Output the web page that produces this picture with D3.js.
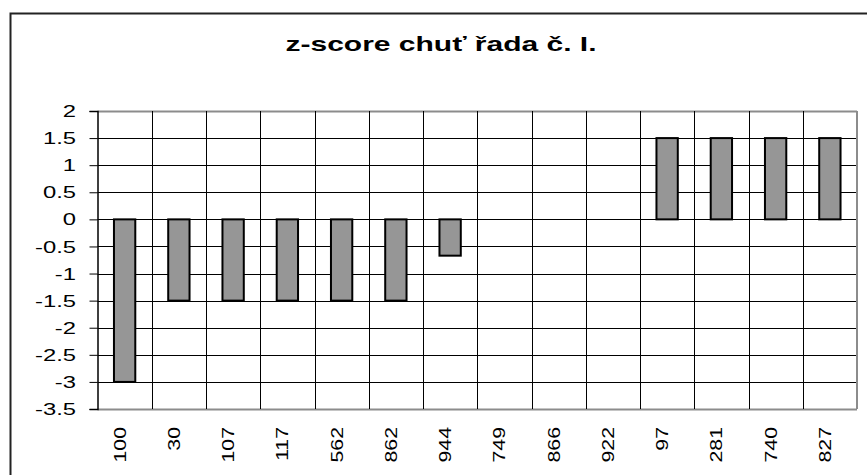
<!DOCTYPE html>
<html>
<head>
<meta charset="utf-8">
<script src="https://cdn.jsdelivr.net/npm/d3@7"></script>
<style>
  html, body { margin: 0; padding: 0; background: #fff; overflow: hidden; }
  svg { display: block; font-family: Arial, "Liberation Sans", sans-serif; }
</style>
</head>
<body>
<div id="chart"></div>
<script>
// Данные
const categories = ['100', '30', '107', '117', '562', '862', '944', '749', '866', '922', '97', '281', '740', '827']
const values = [-3, -1.5, -1.5, -1.5, -1.5, -1.5, -0.67, 0, 0, 0, 1.5, 1.5, 1.5, 1.5]
const yTicks = [2, 1.5, 1, 0.5, 0, -0.5, -1, -1.5, -2, -2.5, -3, -3.5]
const title = 'z-score chuť řada č. I.'

const config = {
  width: 867,
  height: 475,
  plotLeft: 97.5,
  plotRight: 857,
  plotTop: 111,
  plotBottom: 409,
  colors: {
    bar: '#969696',
    grid: '#000',
    frame: '#8c8c8c',
    text: '#000'
  }
}

const { width, height, plotLeft, plotRight, plotTop, plotBottom, colors } = config

const svg = d3.select('#chart')
  .append('svg')
  .attr('width', width)
  .attr('height', height)

// Рамка всего рисунка (обрезана справа и снизу)
svg.append('rect')
  .attr('x', 10.5)
  .attr('y', 13.5)
  .attr('width', 880)
  .attr('height', 480)
  .attr('fill', '#fff')
  .attr('stroke', '#222')
  .attr('stroke-width', 2)

// Шкалы
const pad = 0.57
const x = d3.scaleBand()
  .domain(categories)
  .range([plotLeft, plotRight])
  .paddingInner(pad)
  .paddingOuter(pad / 2)

const y = d3.scaleLinear()
  .domain([-3.5, 2])
  .range([plotBottom, plotTop])

const step = x.step()

// Горизонтальная сетка
svg.append('g')
  .selectAll('line')
  .data(yTicks)
  .enter()
  .append('line')
  .attr('x1', plotLeft)
  .attr('x2', plotRight)
  .attr('y1', d => Math.round(y(d)) + 0.5)
  .attr('y2', d => Math.round(y(d)) + 0.5)
  .attr('stroke', d => (d === 2 || d === -3.5) ? colors.frame : colors.grid)
  .attr('stroke-width', d => (d === 2 || d === -3.5) ? 2 : 1)

// Вертикальная сетка по границам категорий
svg.append('g')
  .selectAll('line')
  .data(categories.slice(1))
  .enter()
  .append('line')
  .attr('x1', d => Math.round(x(d) - step * pad / 2) + 0.5)
  .attr('x2', d => Math.round(x(d) - step * pad / 2) + 0.5)
  .attr('y1', plotTop)
  .attr('y2', plotBottom)
  .attr('stroke', colors.grid)
  .attr('stroke-width', 1)

// Правая граница
svg.append('line')
  .attr('x1', plotRight)
  .attr('x2', plotRight)
  .attr('y1', plotTop)
  .attr('y2', plotBottom)
  .attr('stroke', colors.frame)
  .attr('stroke-width', 2)

// Столбцы
svg.append('g')
  .selectAll('rect')
  .data(values.map((v, i) => ({ cat: categories[i], v })).filter(d => d.v !== 0))
  .enter()
  .append('rect')
  .attr('x', d => x(d.cat) + 1)
  .attr('width', x.bandwidth() - 2)
  .attr('y', d => y(Math.max(0, d.v)))
  .attr('height', d => Math.abs(y(d.v) - y(0)))
  .attr('fill', colors.bar)
  .attr('stroke', '#000')
  .attr('stroke-width', 2)

// Ось Y
const yAxis = svg.append('g')
  .attr('transform', `translate(${plotLeft},0)`)
  .call(d3.axisLeft(y).tickValues(yTicks).tickSize(8).tickFormat(''))
yAxis.select('.domain').attr('stroke', '#000').attr('stroke-width', 1.5)
yAxis.selectAll('.tick line').attr('stroke', '#000')

// Подписи оси Y (растянуты по горизонтали, как в оригинале)
svg.append('g')
  .selectAll('g')
  .data(yTicks)
  .enter()
  .append('g')
  .attr('transform', d => `translate(76,${y(d)}) scale(1.4,1)`)
  .append('text')
  .attr('text-anchor', 'end')
  .attr('dy', '0.36em')
  .attr('font-size', '17px')
  .attr('fill', colors.text)
  .text(d => d)

// Подписи оси X (повёрнуты)
svg.append('g')
  .selectAll('g')
  .data(categories)
  .enter()
  .append('g')
  .attr('transform', d => `translate(${x(d) + x.bandwidth() / 2 + 1},427) rotate(-90) scale(1.25,1)`)
  .append('text')
  .attr('text-anchor', 'end')
  .attr('font-size', '17px')
  .attr('fill', colors.text)
  .text(d => d)

// Заголовок
svg.append('g')
  .attr('transform', 'translate(441,51) scale(1.5,1)')
  .append('text')
  .attr('text-anchor', 'middle')
  .attr('font-size', '20px')
  .attr('font-weight', 'bold')
  .attr('fill', colors.text)
  .text(title)
</script>
</body>
</html>
